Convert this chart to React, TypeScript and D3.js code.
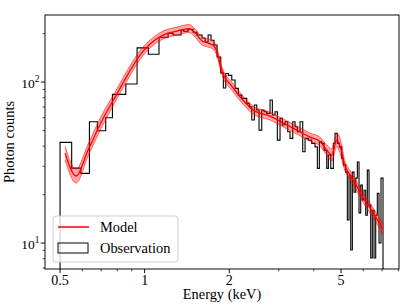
import React from 'react';
import * as d3 from 'd3';

// Observation histogram: bin edges (keV) and counts per bin
const obsEdges = [
  0.500, 0.550, 0.593, 0.636, 0.679, 0.727, 0.768, 0.857, 0.940, 1.031,
  1.125, 1.212, 1.262, 1.348, 1.376, 1.427, 1.487, 1.537, 1.601, 1.641,
  1.682, 1.723, 1.766, 1.810, 1.866, 1.906, 1.944, 1.986, 2.042, 2.098,
  2.156, 2.216, 2.259, 2.309, 2.359, 2.406, 2.458, 2.506, 2.554, 2.611,
  2.660, 2.720, 2.795, 2.848, 2.911, 2.967, 3.033, 3.091, 3.160, 3.231,
  3.292, 3.366, 3.430, 3.495, 3.573, 3.653, 3.723, 3.825, 3.933, 4.041,
  4.118, 4.186, 4.269, 4.350, 4.448, 4.506, 4.596, 4.695, 4.760, 4.851,
  4.931, 5.029, 5.095, 5.196, 5.265, 5.339, 5.414, 5.485, 5.562, 5.640,
  5.714, 5.794, 5.876, 5.953, 6.036, 6.121, 6.202, 6.289, 6.377, 6.461,
  6.552, 6.643, 6.731, 6.825, 6.938, 7.053,
];
const obsCounts = [
  42.2, 29.2, 27.1, 56.7, 49.8, 60.0, 83.9, 97.2, 163, 149,
  190, 201, 196, 210, 207, 213, 204, 196, 188, 177,
  196, 182, 170, 143, 114, 91.8, 113, 110, 103, 91.4,
  83.0, 79.2, 79.2, 73.7, 70.3, 58.1, 72.0, 67.0, 50.3, 67.0,
  65.4, 63.9, 77.3, 62.4, 65.4, 43.6, 59.5, 54.1, 56.7, 49.1,
  44.7, 56.7, 52.8, 49.1, 56.7, 36.9, 44.7, 43.6, 41.6, 39.6,
  29.1, 42.6, 41.6, 37.8, 29.1, 35.2, 29.1, 41.6, 48.0, 41.6,
  39.6, 33.6, 30.5, 27.6, 13.9, 26.4, 9.05, 27.6, 20.7, 25.3,
  31.9, 15.4, 22.9, 18.5, 21.3, 14.9, 28.4, 17.2, 8.07, 16.0,
  8.07, 14.9, 20.4, 10.0, 25.3,
];

// Model curve and its uncertainty band
const modelEnergy = [
  0.521, 0.570, 0.629, 0.704, 0.785, 0.873, 0.963, 1.046, 1.163, 1.304,
  1.439, 1.512, 1.601, 1.682, 1.752, 1.810, 1.870, 1.933, 2.030, 2.133,
  2.222, 2.431, 2.795, 3.212, 3.573, 3.879, 4.210, 4.448, 4.634, 4.827,
  5.029, 5.125, 5.383, 5.686, 6.002, 6.514, 6.881, 7.053,
];
const modelCenter = [
  36.2, 26.1, 37.8, 57.3, 80.7, 112.1, 147.2, 172.2, 195.8, 207.4,
  214.9, 201.5, 179.8, 174.7, 169.7, 153.5, 122.2, 105.9, 95.8, 85.4,
  78.4, 67.0, 61.5, 54.1, 49.1, 45.5, 42.7, 37.8, 35.2, 43.6,
  36.7, 31.4, 26.5, 22.6, 19.0, 15.4, 13.1, 12.2,
];
const modelLow = [
  32.8, 23.6, 34.7, 52.5, 75.1, 104.4, 138.0, 162.7, 185.0, 195.8,
  203.0, 190.3, 169.7, 165.0, 160.3, 145.0, 115.4, 100, 90.5, 80.7,
  74.1, 63.3, 58.1, 51.1, 46.4, 43.0, 40.0, 35.2, 32.3, 39.5,
  33.2, 29.2, 24.8, 21.2, 17.8, 14.3, 12.2, 11.2,
];
const modelHigh = [
  40.0, 28.8, 41.2, 62.4, 86.7, 120.4, 156.9, 182.4, 207.4, 219.6,
  227.6, 213.4, 190.3, 185.0, 179.8, 162.7, 129.4, 112.1, 101.4, 90.5,
  83.0, 70.9, 65.1, 57.3, 52.0, 48.2, 45.5, 40.6, 38.4, 48.2,
  40.6, 33.7, 28.2, 24.1, 20.3, 16.5, 14.1, 13.3,
];

const xMajorTicks = [0.5, 1, 2, 5];
const xMajorLabels = ['0.5', '1', '2', '5'];
const xMinorTicks = [0.6, 0.7, 0.8, 0.9, 3, 4, 6, 7, 8];
const yMajorTicks = [10, 100];
const yMajorExp = ['1', '2'];
const yMinorTicks = [7, 8, 9, 20, 30, 40, 50, 60, 70, 80, 90, 200];
const xDomain = [0.442, 8.04];
const yDomain = [6.9, 261];

const FONT = "'Liberation Serif', serif";
const txt = { fontFamily: FONT, fill: '#000' };

export default function App() {
  const L = 45, R = 399, T = 15, B = 269;
  const x = d3.scaleLog().domain(xDomain).range([L, R]);
  const y = d3.scaleLog().domain(yDomain).range([B, T]);

  const pts: [number, number][] = [];
  pts.push([x(obsEdges[0]), B + 2]);
  obsCounts.forEach((c, i) => {
    pts.push([x(obsEdges[i]), y(c)]);
    pts.push([x(obsEdges[i + 1]), y(c)]);
  });
  pts.push([x(obsEdges[obsEdges.length - 1]), B + 2]);
  const histPath = d3.line()(pts) || '';

  const idx = modelEnergy.map((_, i) => i);
  const band = d3
    .area<number>()
    .x((i) => x(modelEnergy[i]))
    .y0((i) => y(modelLow[i]))
    .y1((i) => y(modelHigh[i]))
    .curve(d3.curveMonotoneX)(idx) || '';
  const lineLow = d3.line<number>().x((i) => x(modelEnergy[i])).y((i) => y(modelLow[i])).curve(d3.curveMonotoneX)(idx) || '';
  const lineHigh = d3.line<number>().x((i) => x(modelEnergy[i])).y((i) => y(modelHigh[i])).curve(d3.curveMonotoneX)(idx) || '';
  const lineC = d3.line<number>().x((i) => x(modelEnergy[i])).y((i) => y(modelCenter[i])).curve(d3.curveMonotoneX)(idx) || '';

  return (
    <div style={{ position: 'absolute', left: 0, top: 0 }}>
      <svg width={415} height={306} style={{ display: 'block', background: '#fff' }}>
        <defs>
          <clipPath id="plotclip">
            <rect x={L} y={T} width={R - L} height={B - T} />
          </clipPath>
        </defs>
        <g clipPath="url(#plotclip)">
          <path d={histPath} fill="none" stroke="#000" strokeWidth={1.1} strokeLinejoin="miter" />
          <path d={band} fill="rgba(255,0,0,0.35)" stroke="none" />
          <path d={lineLow} fill="none" stroke="rgba(255,0,0,0.55)" strokeWidth={1} />
          <path d={lineHigh} fill="none" stroke="rgba(255,0,0,0.55)" strokeWidth={1} />
          <path d={lineC} fill="none" stroke="#ff0000" strokeWidth={1.3} />
        </g>
        {/* spines */}
        <rect x={L} y={T} width={R - L} height={B - T} fill="none" stroke="#000" strokeWidth={0.96} />
        {/* x ticks */}
        {xMajorTicks.map((t, i) => (
          <g key={'xM' + t}>
            <line x1={x(t)} x2={x(t)} y1={B} y2={B + 4.2} stroke="#000" strokeWidth={0.96} />
            <text x={x(t)} y={284.5} fontSize={14} textAnchor="middle" style={txt}>{xMajorLabels[i]}</text>
          </g>
        ))}
        {xMinorTicks.map((t) => (
          <line key={'xm' + t} x1={x(t)} x2={x(t)} y1={B} y2={B + 2.4} stroke="#000" strokeWidth={0.72} />
        ))}
        {/* y ticks */}
        {yMajorTicks.map((t, i) => (
          <g key={'yM' + t}>
            <line x1={L - 4.2} x2={L} y1={y(t)} y2={y(t)} stroke="#000" strokeWidth={0.96} />
            <text x={39.5} y={y(t) + 5.5} fontSize={13.5} textAnchor="end" style={txt}>
              10<tspan dy={-6} fontSize={9.5}>{yMajorExp[i]}</tspan>
            </text>
          </g>
        ))}
        {yMinorTicks.map((t) => (
          <line key={'ym' + t} x1={L - 2.4} x2={L} y1={y(t)} y2={y(t)} stroke="#000" strokeWidth={0.72} />
        ))}
        {/* axis labels */}
        <text x={(L + R) / 2} y={299} fontSize={14.4} textAnchor="middle" style={txt}>Energy (keV)</text>
        <text transform={`translate(14, ${(T + B) / 2}) rotate(-90)`} fontSize={14.4} textAnchor="middle" style={txt}>Photon counts</text>
        {/* legend */}
        <g>
          <rect x={53} y={216} width={125} height={46} rx={3} fill="rgba(255,255,255,0.8)" stroke="#cccccc" strokeWidth={0.96} />
          <line x1={58} x2={89} y1={227} y2={227} stroke="#ff0000" strokeWidth={1.5} />
          <text x={100} y={232} fontSize={14.4} style={txt}>Model</text>
          <rect x={58} y={243} width={30} height={10} fill="none" stroke="#000" strokeWidth={1} />
          <text x={100} y={253} fontSize={14.4} style={txt}>Observation</text>
        </g>
      </svg>
    </div>
  );
}
